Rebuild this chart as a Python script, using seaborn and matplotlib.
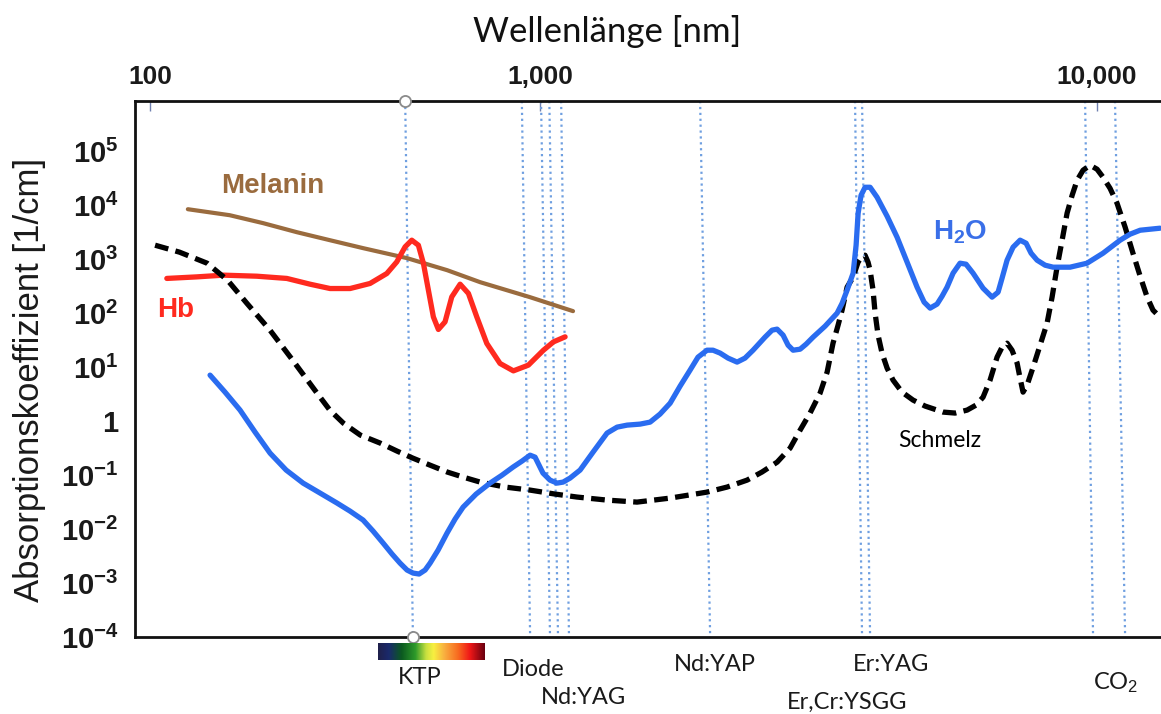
import numpy as np
import matplotlib
matplotlib.use('Agg')
import matplotlib.pyplot as plt
import seaborn as sns
from matplotlib.colors import LinearSegmentedColormap
from matplotlib.ticker import FixedLocator, NullLocator

# Absorptionsspektren (Wellenlänge in nm, Absorptionskoeffizient in 1/cm)
h2o_nm = [142.5, 155.7, 170.1, 185.9, 203.1, 223.3, 246.8, 272.9, 301.6, 325.7, 351.7, 373.1,
          395.8, 417.4, 437.5, 456.0, 472.5, 489.5, 507.2, 522.4, 547.7, 577.4, 605.4, 634.8,
          685.5, 744.5, 799.3, 852.8, 899.2, 942.8, 970.9, 1012, 1042, 1073, 1100, 1132, 1180,
          1245, 1319, 1375, 1433, 1512, 1576, 1642, 1712, 1784, 1859, 1921, 1994, 2044, 2105,
          2175, 2258, 2333, 2412, 2534, 2609, 2664, 2731, 2788, 2846, 2930, 3004, 3091, 3249,
          3414, 3486, 3558, 3648, 3693, 3724, 3770, 3833, 3913, 4027, 4198, 4375, 4560, 4752,
          4892, 5015, 5161, 5269, 5379, 5514, 5675, 5818, 5989, 6242, 6479, 6642, 6752, 6893,
          7066, 7274, 7457, 7613, 7804, 8067, 8337, 8944, 9594, 10250, 11000, 11460, 11950, 12970]
h2o_abs = [7.11, 3.44, 1.60, 0.625, 0.255, 0.124, 0.0711, 0.0464, 0.0303, 0.0215, 0.0147, 0.00918,
           0.00551, 0.00344, 0.00234, 0.00174, 0.00153, 0.00147, 0.00174, 0.00234, 0.00408,
           0.00843, 0.0153, 0.0255, 0.0445, 0.0711, 0.100, 0.141, 0.182, 0.234, 0.215, 0.109,
           0.0807, 0.0711, 0.0742, 0.0880, 0.124, 0.267, 0.600, 0.774, 0.843, 0.880, 0.958, 1.35,
           2.15, 4.45, 8.80, 15.3, 20.6, 20.6, 18.2, 14.7, 12.4, 14.7, 20.6, 35.9, 48.4, 50.6,
           39.1, 25.5, 20.6, 21.5, 26.7, 35.9, 57.5, 100, 153, 267, 551, 1816, 7110, 15300,
           21500, 21500, 14060, 6250, 2550, 880, 303, 160, 124, 147, 206, 303, 551, 843, 807, 551,
           290, 198, 245, 445, 958, 1668, 2250, 1977, 1291, 958, 774, 711, 711, 843, 1291, 2250,
           2904, 3440, 3750]

schmelz_nm = [103, 119, 140, 158, 177, 203, 229, 268, 289, 313, 346, 389, 430, 472, 522, 578, 635,
              702, 814, 943, 1064, 1165, 1319, 1493, 1712, 1994, 2166, 2353, 2503, 2665, 2811,
              2930, 3053, 3182, 3276, 3357, 3428, 3485, 3558, 3647, 3723, 3785, 3832, 3880, 3913,
              3961, 3995, 4044, 4111, 4198, 4303, 4466, 4674, 4912, 5290, 5560, 5844, 6064, 6242,
              6425, 6614, 6752, 6893, 7036, 7185, 7274, 7364, 7488, 7677, 7901, 8133, 8303, 8475,
              8655, 8834, 9021, 9208, 9438, 9714, 10000, 10250, 10550, 10860, 11230, 11600, 11950,
              12300, 12600, 12970]
schmelz_abs = [1816, 1349, 843, 408, 153, 48.4, 15.3, 3.30, 1.60, 0.918, 0.551, 0.392, 0.278,
               0.206, 0.153, 0.114, 0.0918, 0.0742, 0.060, 0.0527, 0.0445, 0.0392, 0.0344, 0.0316,
               0.0375, 0.0484, 0.060, 0.0807, 0.114, 0.174, 0.316, 0.681, 1.41, 3.30, 8.07, 27.8,
               60.0, 114, 303, 464, 880, 1137, 1186, 880, 625, 267, 100, 39.1, 18.2, 9.58, 5.74,
               3.44, 2.45, 1.90, 1.47, 1.41, 1.60, 1.98, 2.78, 5.74, 15.3, 23.4, 27.8, 20.6, 11.9,
               6.25, 3.44, 4.64, 10.0, 25.5, 65.3, 198, 711, 2250, 7110, 15300, 29000, 44500,
               55100, 46400, 33000, 20600, 10900, 3920, 1290, 484, 198, 114, 84.3]

hb_nm = [110.4, 131.7, 154.2, 187.7, 224.2, 257.2, 289.4, 325.7, 366.5, 404.6, 429.1, 450.7,
         468.8, 487.5, 502.3, 517.2, 532.6, 548.6, 570.6, 593.7, 623.7, 655.1, 688.2, 730.1,
         789.5, 854.2, 933.3, 1014, 1057, 1109]
hb_abs = [440, 470, 506, 484, 440, 344, 286, 286, 355, 543, 891, 1690, 2250, 1816, 832, 267,
          85.3, 49.9, 69.0, 200, 344, 232, 85.3, 27.5, 11.7, 8.53, 10.9, 20.6, 29.4, 36.4]

melanin_nm = [125, 160, 195, 238, 289, 352, 456, 578, 702, 942, 1146]
melanin_abs = [8430, 6530, 4650, 3160, 2250, 1600, 1045, 625, 375, 198, 109]

# Laserlinien (oben / unten, leicht schräg gezeichnet)
laser_top = [451, 898, 1004, 1039, 1091, 1938, 3677, 3785, 9517, 10770]
laser_bottom = [472, 943, 1042, 1077, 1127, 2020, 3785, 3913, 9836, 11230]
laser_names = ['KTP', 'Diode', 'Nd:YAG', 'Nd:YAP', 'Er:YAG', 'Er,Cr:YSGG', 'CO$_2$']
laser_label_nm = [492, 959, 1195, 2062, 4267, 3558, 10820]
laser_label_y = [-0.0746, -0.0597, -0.112, -0.0504, -0.0504, -0.121, -0.0858]

x_ticks = [100, 1000, 10000]
x_ticklabels = ['100', '1,000', '10,000']
y_ticks = [1e-4, 1e-3, 1e-2, 1e-1, 1, 1e1, 1e2, 1e3, 1e4, 1e5]
y_ticklabels = [r'$\mathbf{10^{-4}}$', r'$\mathbf{10^{-3}}$', r'$\mathbf{10^{-2}}$',
                r'$\mathbf{10^{-1}}$', '1', r'$\mathbf{10^{1}}$', r'$\mathbf{10^{2}}$',
                r'$\mathbf{10^{3}}$', r'$\mathbf{10^{4}}$', r'$\mathbf{10^{5}}$']

sns.set_theme(style='white')
plt.rcParams['font.family'] = ['Liberation Sans', 'DejaVu Sans']
plt.rcParams['mathtext.fontset'] = 'custom'
plt.rcParams['mathtext.rm'] = 'Liberation Sans'
plt.rcParams['mathtext.bf'] = 'Liberation Sans:bold'
plt.rcParams['mathtext.it'] = 'Liberation Sans:italic'

fig = plt.figure(figsize=(11.61, 7.14), dpi=100)
ax = fig.add_axes([0.1163, 0.1078, 0.8837, 0.7507])

# Achse der Vorlage: Dekade 100-1000 schmaler als 1000-10000
K = 557 / 390


def fwd(x):
    lx = np.log10(np.clip(np.asarray(x, dtype=float), 1e-6, None))
    return np.where(lx <= 3, lx - 2, 1 + (lx - 3) * K)


def inv(u):
    u = np.asarray(u, dtype=float)
    return np.where(u <= 1, 10 ** (u + 2), 10 ** (3 + (u - 1) / K))


ax.set_xscale('function', functions=(fwd, inv))
ax.set_yscale('log')
ymax = 10 ** 5.93
ax.set_xlim(91.5, 13025)
ax.set_ylim(1e-4, ymax)

for t, b in zip(laser_top, laser_bottom):
    ax.plot([t, b], [ymax, 1e-4], ls=':', lw=1.6, color='#6f9fe0', zorder=1)

sns.lineplot(x=melanin_nm, y=melanin_abs, ax=ax, color='#9a6b3e', linewidth=3.0,
             estimator=None, zorder=3)
sns.lineplot(x=hb_nm, y=hb_abs, ax=ax, color='#ff2a1f', linewidth=3.8,
             estimator=None, zorder=3)
sns.lineplot(x=schmelz_nm, y=schmelz_abs, ax=ax, color='black', linewidth=3.8,
             linestyle=(0, (2.6, 1.4)), estimator=None, zorder=3)
sns.lineplot(x=h2o_nm, y=h2o_abs, ax=ax, color='#2a6cf0', linewidth=3.8,
             estimator=None, zorder=4)
for ln in ax.lines:
    ln.set_solid_joinstyle('round')
    ln.set_solid_capstyle('round')

ax.plot([laser_top[0], laser_bottom[0]], [ymax, 1e-4], 'o', mfc='white', mec='#8a8a8a',
        ms=8, mew=1.3, clip_on=False, zorder=6)

ax.text(206, 22500, 'Melanin', color='#9a6b3e', fontsize=20, fontweight='bold',
        ha='center', va='center')
ax.text(116, 114, 'Hb', color='#ff2a1f', fontsize=20, fontweight='bold',
        ha='center', va='center')
ax.text(5675, 3160, r'$\mathbf{H_2O}$', color='#3a6fe8', fontsize=20,
        ha='center', va='center')
ax.text(5224, 0.445, 'Schmelz', color='black', fontsize=16.5, family=['Lato', 'DejaVu Sans'],
        ha='center', va='center')

trans = ax.get_xaxis_transform()
for name, xn, yy in zip(laser_names, laser_label_nm, laser_label_y):
    ax.text(xn, yy, name, transform=trans, fontsize=17, family=['Lato', 'DejaVu Sans'],
            color='#1a1a1a', ha='center', va='center', clip_on=False)

ax.xaxis.set_major_locator(FixedLocator(x_ticks))
ax.xaxis.set_minor_locator(NullLocator())
ax.set_xticklabels(x_ticklabels)
ax.yaxis.set_major_locator(FixedLocator(y_ticks))
ax.yaxis.set_minor_locator(NullLocator())
ax.set_yticklabels(y_ticklabels)
ax.tick_params(axis='x', top=True, bottom=False, labeltop=True, labelbottom=False,
               direction='in', length=7, width=1, color='#7080b0', pad=9, labelsize=19,
               labelcolor='#1a1a1a')
for lab in ax.get_xticklabels():
    lab.set_fontweight('bold')
ax.tick_params(axis='y', left=False, length=0, pad=12, labelsize=21, labelcolor='#1a1a1a')
for lab in ax.get_yticklabels():
    lab.set_fontweight('bold')

ax.spines['right'].set_visible(False)
for s in ['left', 'top', 'bottom']:
    ax.spines[s].set_linewidth(2.0)
    ax.spines[s].set_color('#111111')
ax.set_xlabel('')
ax.set_ylabel('')

fig.text(607 / 1161, 1 - 32 / 714, 'Wellenlänge [nm]', fontsize=25,
         family=['Lato', 'DejaVu Sans'], ha='center', va='center', color='#111111')
fig.text(30 / 1161, 1 - 380 / 714, 'Absorptionskoeffizient [1/cm]', fontsize=25,
         rotation=90, ha='center', va='center', color='#1a1a1a')

# Spektrum-Balken unter KTP
spec = LinearSegmentedColormap.from_list('spec', [
    (0.0, '#20204a'), (0.1, '#1a2a6c'), (0.22, '#0b5a20'), (0.35, '#2e9a2a'),
    (0.45, '#c8e040'), (0.52, '#f8f040'), (0.62, '#f8b040'), (0.75, '#f86a20'),
    (0.86, '#f01818'), (1.0, '#6a0010')])
cax = fig.add_axes([378 / 1161, 1 - 660 / 714, 107 / 1161, 17 / 714])
cax.imshow(np.linspace(0, 1, 256)[None, :], aspect='auto', cmap=spec)
cax.axis('off')

fig.savefig('out.png', dpi=100)
